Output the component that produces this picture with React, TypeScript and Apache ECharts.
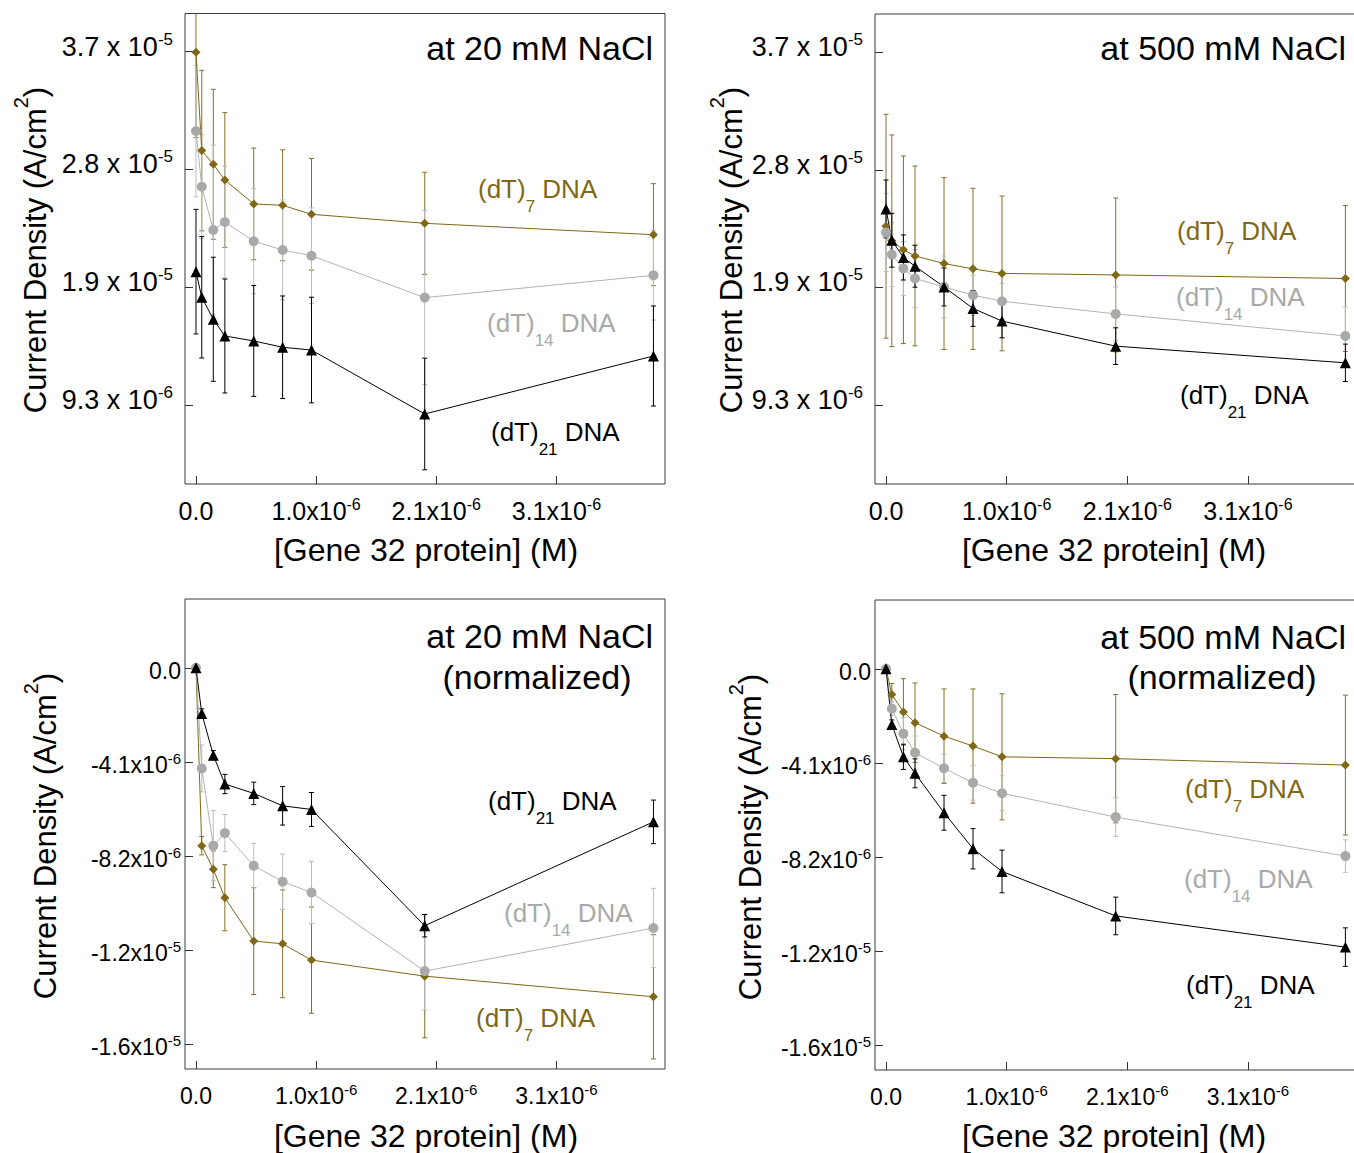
import React, { useEffect, useRef } from "react";
import * as echarts from "echarts";

// [Gene 32 protein], in units of 1e-6 M
const conc = [0, 0.05, 0.15, 0.25, 0.5, 0.75, 1.0, 1.98, 3.96];

// Current density, in units of 1e-6 A/cm^2 — at 20 mM NaCl
const dT7_20 = [37.16, 29.39, 28.31, 27.07, 25.18, 25.07, 24.36, 23.65, 22.75];
const dT7_20_err = [6.74, 6.34, 5.92, 5.32, 4.41, 4.38, 4.41, 4.03, 4.03];
const dT14_20 = [30.94, 26.54, 23.12, 23.75, 22.23, 21.54, 21.09, 17.78, 19.54];
const dT14_20_err = [5.19, 4.1, 6.7, 4.41, 4.15, 3.95, 3.78, 6.87, 3.53];
const dT21_20 = [19.83, 17.81, 16.07, 14.75, 14.36, 13.86, 13.64, 8.59, 13.17];
const dT21_20_err = [4.92, 4.8, 4.9, 4.5, 4.38, 4.05, 4.17, 4.41, 3.95];

// at 500 mM NaCl
const dT7_500 = [23.44, 22.29, 21.58, 21.09, 20.49, 20.07, 19.71, 19.59, 19.31];
const dT7_500_err = [8.85, 8.37, 7.42, 7.11, 6.79, 6.37, 6.12, 6.08, 5.77];
const dT14_500 = [22.94, 21.2, 20.1, 19.31, 18.64, 17.99, 17.51, 16.51, 14.77];
const dT14_500_err = [3.08, 2.53, 2.13, 2.29, 2.45, 1.6, 1.42, 2.13, 2.29];
const dT21_500 = [24.81, 22.33, 20.97, 20.28, 18.64, 16.94, 15.94, 13.96, 12.64];
const dT21_500_err = [2.29, 2.13, 1.78, 1.66, 1.5, 1.42, 1.32, 1.45, 1.48];

// normalized, at 20 mM NaCl
const n7_20 = [0, -7.76, -8.79, -10.03, -11.92, -12.04, -12.75, -13.45, -14.35];
const n7_20_err = [0, 0.4, 0.8, 1.44, 2.33, 2.35, 2.32, 2.69, 2.71];
const n14_20 = [0, -4.39, -7.76, -7.21, -8.63, -9.33, -9.8, -13.23, -11.35];
const n14_20_err = [0, 1.02, 1.53, 0.81, 0.97, 1.21, 1.36, 1.7, 1.73];
const n21_20 = [0, -1.99, -3.81, -5.07, -5.48, -6.02, -6.18, -11.25, -6.72];
const n21_20_err = [0, 0.2, 0.2, 0.42, 0.49, 0.84, 0.74, 0.49, 0.95];

// normalized, at 500 mM NaCl
const n7_500 = [0, -1.12, -1.88, -2.35, -2.94, -3.37, -3.84, -3.92, -4.2];
const n7_500_err = [0, 0.48, 1.45, 1.73, 2.06, 2.49, 2.75, 2.8, 3.05];
const n14_500 = [0, -1.74, -2.83, -3.66, -4.34, -4.97, -5.43, -6.47, -8.17];
const n14_500_err = [0, 0.3, 0.7, 0.73, 0.61, 0.76, 0.76, 0.84, 0.71];
const n21_500 = [0, -2.43, -3.84, -4.56, -6.28, -7.85, -8.84, -10.78, -12.14];
const n21_500_err = [0, 0.2, 0.55, 0.63, 0.76, 0.88, 0.93, 0.82, 0.84];

// tick values and labels ([main, superscript])
const xTicks = [0, 1.04, 2.08, 3.12];
const xTickText = [["0.0", ""], ["1.0x10", "-6"], ["2.1x10", "-6"], ["3.1x10", "-6"]];
const rawTicks = [9.3, 18.6, 27.9, 37.2];
const rawTickText = [["9.3 x 10", "-6"], ["1.9 x 10", "-5"], ["2.8 x 10", "-5"], ["3.7 x 10", "-5"]];
const normTicks = [0, -4.1, -8.2, -12.3, -16.4];
const normTickText = [["0.0", ""], ["-4.1x10", "-6"], ["-8.2x10", "-6"], ["-1.2x10", "-5"], ["-1.6x10", "-5"]];

const FONT = '"Liberation Sans", Arial, Helvetica, sans-serif';
const GOLD = "#7f6816";
const GOLD_ERR = "#85702a";
const GRAY = "#a9a9a9";
const GRAY_ERR = "#bbbbbb";
const BLACK = "#000000";

let measureCtx: CanvasRenderingContext2D | null = null;
function tw(text: string, size: number): number {
  if (!measureCtx) measureCtx = document.createElement("canvas").getContext("2d");
  measureCtx!.font = `${size}px ${FONT}`;
  return measureCtx!.measureText(text).width;
}

type Part = { t: string; size: number; dy: number };
function composite(parts: Part[], x: number, y: number, color: string, align: string, rotation = 0) {
  const widths = parts.map((p) => tw(p.t, p.size));
  const total = widths.reduce((a, b) => a + b, 0);
  let start = align === "left" ? 0 : align === "center" ? -total / 2 : -total;
  const children = parts.map((p, i) => {
    const el = {
      type: "text",
      x: start,
      y: p.dy,
      style: { text: p.t, fontSize: p.size, fontFamily: FONT, fill: color, align: "left", verticalAlign: "middle" },
    };
    start += widths[i];
    return el;
  });
  return { type: "group", x, y, rotation, children, silent: true };
}

function dnaLabel(n: string, x: number, y: number, color: string) {
  return composite(
    [
      { t: "(dT)", size: 26, dy: 0 },
      { t: n, size: 17, dy: 17 },
      { t: " DNA", size: 26, dy: 0 },
    ],
    x, y, color, "left"
  );
}

function yTitle(x: number, y: number) {
  return composite(
    [
      { t: "Current Density (A/cm", size: 31, dy: 0 },
      { t: "2", size: 20, dy: -14 },
      { t: ")", size: 31, dy: 0 },
    ],
    x, y, "#000", "center", Math.PI / 2
  );
}

function xTitle(x: number, y: number) {
  return composite([{ t: "[Gene 32 protein] (M)", size: 32, dy: 0 }], x, y, "#000", "center");
}

function panelTitle(t: string, x: number, y: number, align: string) {
  return composite([{ t, size: 34, dy: 0 }], x, y, "#000", align);
}

function fmtFactory(ticks: number[], texts: string[][]) {
  return (v: number) => {
    const i = ticks.findIndex((t) => Math.abs(t - v) < 1e-6);
    if (i < 0) return "";
    const [m, s] = texts[i];
    return s ? `{m|${m}}{s|${s}}` : `{m|${m}}`;
  };
}

function richStyle(mSize: number, sSize: number) {
  return {
    m: { fontSize: mSize, fontFamily: FONT, lineHeight: Math.round(mSize * 1.2), color: "#000" },
    s: { fontSize: sSize, fontFamily: FONT, lineHeight: sSize, verticalAlign: "top", color: "#000" },
  };
}

function xAxis(idx: number, top: boolean) {
  return {
    type: "value",
    gridIndex: idx,
    min: -0.095,
    max: 4.06,
    axisLine: { show: false, onZero: false },
    splitLine: { show: false },
    axisTick: { show: true, inside: true, length: 8, customValues: xTicks, lineStyle: { color: "#333", width: 1 } },
    axisLabel: {
      customValues: xTicks,
      formatter: fmtFactory(xTicks, xTickText),
      rich: top ? richStyle(25, 16) : richStyle(23, 15),
      margin: top ? 12 : 13,
    },
  };
}

function yAxis(idx: number, normalized: boolean) {
  const ticks = normalized ? normTicks : rawTicks;
  const texts = normalized ? normTickText : rawTickText;
  return {
    type: "value",
    gridIndex: idx,
    min: normalized ? -17.5 : 3.06,
    max: normalized ? 3.0 : 40.22,
    axisLine: { show: false, onZero: false },
    splitLine: { show: false },
    axisTick: { show: true, inside: true, length: 8, customValues: ticks, lineStyle: { color: "#333", width: 1 } },
    axisLabel: {
      customValues: ticks,
      formatter: fmtFactory(ticks, texts),
      rich: normalized ? richStyle(23, 15) : richStyle(27, 17),
      margin: normalized ? 4 : 12,
      padding: normalized ? [6, 0, 0, 0] : [0, 0, 10, 0],
    },
  };
}

function lineSeries(idx: number, ys: number[], color: string, lineColor: string, symbol: string, size: number) {
  return {
    type: "line",
    xAxisIndex: idx,
    yAxisIndex: idx,
    data: conc.map((x, i) => [x, ys[i]]),
    symbol,
    symbolSize: size,
    showAllSymbol: true,
    lineStyle: { color: lineColor, width: 1 },
    itemStyle: { color },
    z: 3,
    silent: true,
    clip: true,
  };
}

function errSeries(idx: number, ys: number[], es: number[], color: string) {
  return {
    type: "custom",
    xAxisIndex: idx,
    yAxisIndex: idx,
    clip: true,
    z: 2,
    silent: true,
    encode: { x: 0, y: [1, 2] },
    data: conc.map((x, i) => [x, ys[i] - es[i], ys[i] + es[i]]),
    renderItem: (params: any, api: any) => {
      const x = api.value(0);
      const lo = api.value(1);
      const hi = api.value(2);
      if (hi - lo <= 1e-9) return null;
      const top = api.coord([x, hi]);
      const bot = api.coord([x, lo]);
      const hw = 2.5;
      const st = { stroke: color, lineWidth: 1, fill: null };
      return {
        type: "group",
        children: [
          { type: "line", shape: { x1: top[0], y1: top[1], x2: bot[0], y2: bot[1] }, style: st },
          { type: "line", shape: { x1: top[0] - hw, y1: top[1], x2: top[0] + hw, y2: top[1] }, style: st },
          { type: "line", shape: { x1: bot[0] - hw, y1: bot[1], x2: bot[0] + hw, y2: bot[1] }, style: st },
        ],
      };
    },
  };
}

function panelSeries(idx: number, g: number[], ge: number[], s: number[], se: number[], b: number[], be: number[]) {
  return [
    errSeries(idx, g, ge, GOLD_ERR),
    errSeries(idx, s, se, GRAY_ERR),
    errSeries(idx, b, be, BLACK),
    lineSeries(idx, g, GOLD, GOLD, "diamond", 9),
    lineSeries(idx, s, GRAY, "#b3b3b3", "circle", 10),
    lineSeries(idx, b, BLACK, BLACK, "triangle", 11),
  ];
}

export default function App() {
  const ref = useRef<HTMLDivElement>(null);
  useEffect(() => {
    if (!ref.current) return;
    const chart = echarts.init(ref.current, null, { renderer: "svg" });
    const gridBase = { show: true, borderColor: "#3a3a3a", borderWidth: 1, backgroundColor: "transparent", containLabel: false, outerBoundsMode: "none" };
    const option: any = {
      animation: false,
      backgroundColor: "#ffffff",
      textStyle: { fontFamily: FONT },
      grid: [
        { ...gridBase, left: 185, top: 13.5, width: 480, height: 470.5 },
        { ...gridBase, left: 875, top: 14, width: 482, height: 470 },
        { ...gridBase, left: 185, top: 599, width: 480, height: 470 },
        { ...gridBase, left: 875, top: 600, width: 482, height: 470 },
      ],
      xAxis: [xAxis(0, true), xAxis(1, true), xAxis(2, false), xAxis(3, false)],
      yAxis: [yAxis(0, false), yAxis(1, false), yAxis(2, true), yAxis(3, true)],
      series: [
        ...panelSeries(0, dT7_20, dT7_20_err, dT14_20, dT14_20_err, dT21_20, dT21_20_err),
        ...panelSeries(1, dT7_500, dT7_500_err, dT14_500, dT14_500_err, dT21_500, dT21_500_err),
        ...panelSeries(2, n7_20, n7_20_err, n14_20, n14_20_err, n21_20, n21_20_err),
        ...panelSeries(3, n7_500, n7_500_err, n14_500, n14_500_err, n21_500, n21_500_err),
      ],
      graphic: [
        panelTitle("at 20 mM NaCl", 653, 48, "right"),
        panelTitle("at 500 mM NaCl", 1346, 48, "right"),
        panelTitle("at 20 mM NaCl", 653, 636, "right"),
        panelTitle("(normalized)", 537, 677, "center"),
        panelTitle("at 500 mM NaCl", 1346, 637, "right"),
        panelTitle("(normalized)", 1222, 677, "center"),
        dnaLabel("7", 478, 189, GOLD),
        dnaLabel("14", 487, 323, GRAY),
        dnaLabel("21", 491, 432, BLACK),
        dnaLabel("7", 1177, 231, GOLD),
        dnaLabel("14", 1176, 297, GRAY),
        dnaLabel("21", 1180, 395, BLACK),
        dnaLabel("21", 488, 801, BLACK),
        dnaLabel("14", 504, 913, GRAY),
        dnaLabel("7", 476, 1018, GOLD),
        dnaLabel("7", 1185, 789, GOLD),
        dnaLabel("14", 1184, 879, GRAY),
        dnaLabel("21", 1186, 985, BLACK),
        yTitle(35, 250),
        yTitle(731, 250),
        yTitle(45, 836),
        yTitle(750, 837),
        xTitle(426, 550),
        xTitle(1114, 550),
        xTitle(426, 1136),
        xTitle(1114, 1136),
      ],
    };
    chart.setOption(option);
    return () => chart.dispose();
  }, []);
  return <div ref={ref} style={{ position: "absolute", left: 0, top: 0, width: 1354, height: 1153 }} />;
}
